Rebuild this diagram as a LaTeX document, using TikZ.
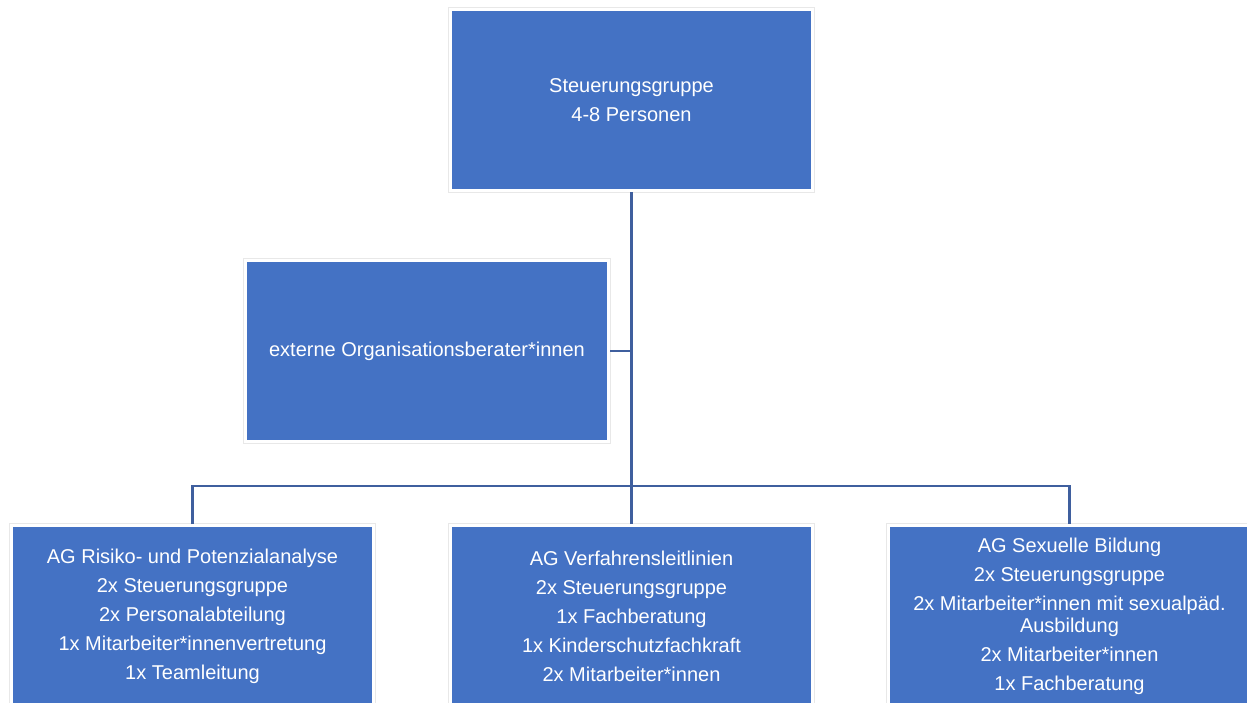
\documentclass[tikz,border=0pt]{standalone}
\usepackage{fontspec}
\setmainfont{Liberation Sans}
\definecolor{boxblue}{HTML}{4472C4}
\definecolor{linkblue}{HTML}{3F5F9E}
\begin{document}
\begin{tikzpicture}[x=1pt,y=-1pt,
  box/.style={rectangle, fill=boxblue, draw=white, line width=3pt,
    preaction={draw=black!9, line width=4.5pt},
    minimum width=362pt, minimum height=181pt, inner sep=0pt,
    text=white, align=center,
    font=\fontsize{20}{29}\selectfont},
  link/.style={draw=linkblue, line width=2.6pt}]
\useasboundingbox (0,0) rectangle (1247,702);
\begin{scope}
\clip (0,0) rectangle (1247,702);
\node[box] (top) at (631.5,100) {Steuerungsgruppe\\4-8 Personen};
\node[box, minimum width=363pt] (ext) at (427,351) {externe Organisationsberater*innen};
\node[box] (ag1) at (192.5,616) {AG Risiko- und Potenzialanalyse\\2x Steuerungsgruppe\\2x Personalabteilung\\1x Mitarbeiter*innenvertretung\\1x Teamleitung};
\node[box] (ag2) at (631.5,616) {AG Verfahrensleitlinien\\2x Steuerungsgruppe\\1x Fachberatung\\1x Kinderschutzfachkraft\\2x Mitarbeiter*innen};
\node[box] (ag3) at (1069.5,616) {AG Sexuelle Bildung\\2x Steuerungsgruppe\\2x Mitarbeiter*innen mit sexualpäd.\\[-7pt]Ausbildung\\2x Mitarbeiter*innen\\1x Fachberatung};
\end{scope}
\coordinate (bus) at (631.5,486);
\coordinate (extjoin) at (top.south |- ext.east);
\draw[link] (top.south) -- (bus);
\draw[link] (ext.east) -- (extjoin);
\draw[link] (ag1.north) |- (bus) -| (ag3.north);
\draw[link] (bus) -- (ag2.north);
\end{tikzpicture}
\end{document}
